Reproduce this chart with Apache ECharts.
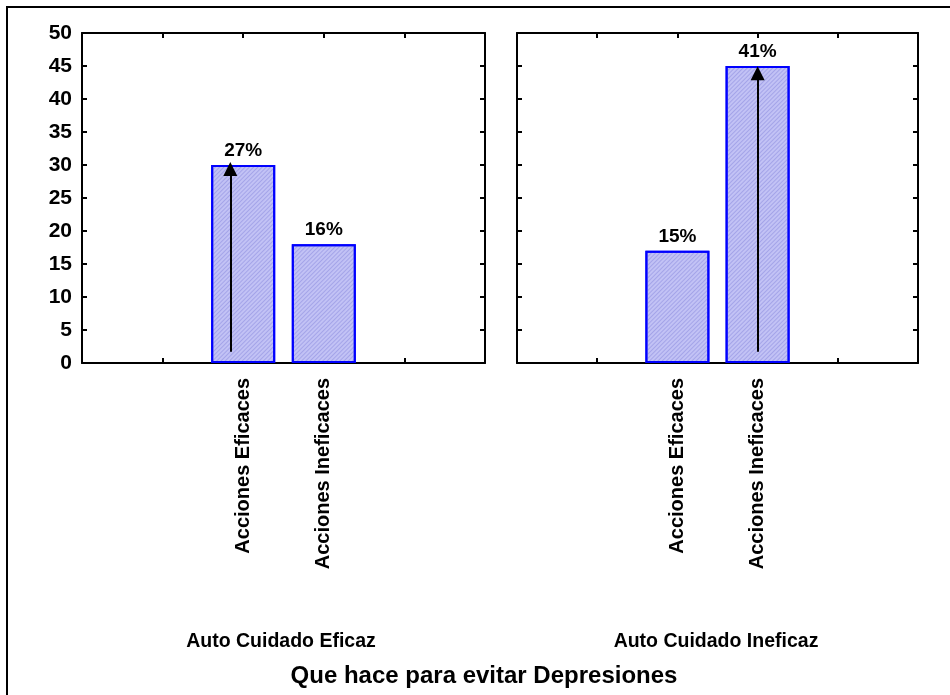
<!DOCTYPE html>
<html>
<head>
<meta charset="utf-8">
<script src="https://cdn.jsdelivr.net/npm/echarts@6/dist/echarts.min.js"></script>
<style>
html,body{margin:0;padding:0;background:#fff;}
#chart{width:950px;height:695px;}
</style>
</head>
<body>
<div id="chart"></div>
<script>
// ---- data ----
var categories = ['Acciones Eficaces', 'Acciones Ineficaces'];
var catPositions = [2, 3];
var groups = ['Auto Cuidado Eficaz', 'Auto Cuidado Ineficaz'];
var valuesEficaz = [30, 18];
var valuesIneficaz = [17, 45];
var pctEficaz = ['27%', '16%'];
var pctIneficaz = ['15%', '41%'];
var arrowEficaz = { x: 1.84, from: 1.7, to: 29.4 };
var arrowIneficaz = { x: 3, from: 1.7, to: 43.9 };
var yTicks = [0, 5, 10, 15, 20, 25, 30, 35, 40, 45, 50];
var xTitle = 'Que hace para evitar Depresiones';

var FONT = 'Liberation Sans, Arial, sans-serif';

var chart = echarts.init(document.getElementById('chart'), null, {renderer: 'canvas'});

function catFormatter(v) {
  var i = catPositions.indexOf(v);
  return i >= 0 ? categories[i] : '';
}

var grids = [
  {left: 82, top: 33, width: 403, height: 330},
  {left: 517, top: 33, width: 401, height: 330}
];

var xAxes = [], yAxes = [], series = [];
var lineStyle = {color: '#000', width: 2};

[0, 1].forEach(function (g) {
  xAxes.push({
    gridIndex: g, type: 'value', min: 0, max: 5, interval: 1, position: 'bottom',
    axisLine: {show: true, onZero: false, lineStyle: lineStyle},
    axisTick: {show: true, inside: true, length: 5, lineStyle: {color: '#000', width: 2}},
    axisLabel: {show: true, rotate: 90, margin: 15, formatter: catFormatter,
      color: '#000', fontFamily: FONT, fontWeight: 'bold', fontSize: 20,
      showMinLabel: true, showMaxLabel: true},
    splitLine: {show: false}
  });
  xAxes.push({
    gridIndex: g, type: 'value', min: 0, max: 5, interval: 1, position: 'top',
    axisLine: {show: true, onZero: false, lineStyle: lineStyle},
    axisTick: {show: true, inside: true, length: 5, lineStyle: {color: '#000', width: 2}},
    axisLabel: {show: false}, splitLine: {show: false}
  });
  yAxes.push({
    gridIndex: g, type: 'value', min: 0, max: 50, interval: 5, position: 'left',
    axisLine: {show: true, onZero: false, lineStyle: lineStyle},
    axisTick: {show: true, inside: true, length: 5, lineStyle: {color: '#000', width: 2}},
    axisLabel: {show: g === 0, margin: 10, color: '#000', fontFamily: FONT,
      fontWeight: 'bold', fontSize: 21,
      formatter: function (v) { return yTicks.indexOf(v) >= 0 ? String(v) : ''; }},
    splitLine: {show: false}
  });
  yAxes.push({
    gridIndex: g, type: 'value', min: 0, max: 50, interval: 5, position: 'right',
    axisLine: {show: true, onZero: false, lineStyle: lineStyle},
    axisTick: {show: true, inside: true, length: 5, lineStyle: {color: '#000', width: 2}},
    axisLabel: {show: false}, splitLine: {show: false}
  });
});

function makeBar(g, values, pcts, arrow) {
  return {
    type: 'bar',
    xAxisIndex: g * 2, yAxisIndex: g * 2,
    barWidth: 64,
    data: values.map(function (v, i) { return [catPositions[i], v]; }),
    itemStyle: {
      color: '#c2c2f5',
      borderColor: '#0000ff',
      borderWidth: 2,
      decal: {
        symbol: 'rect', symbolSize: 1,
        dashArrayX: [1, 0], dashArrayY: [1, 2],
        rotation: -Math.PI / 4,
        color: 'rgba(110,110,210,0.35)'
      }
    },
    label: {
      show: true, position: 'top', distance: 5,
      color: '#000', fontFamily: FONT, fontWeight: 'bold', fontSize: 19,
      formatter: function (p) { return pcts[p.dataIndex]; }
    },
    markLine: {
      silent: true,
      animation: false,
      symbol: ['none', 'triangle'],
      symbolSize: [14, 14],
      label: {show: false},
      lineStyle: {color: '#000', width: 2, type: 'solid'},
      data: [[{coord: [arrow.x, arrow.from]}, {coord: [arrow.x, arrow.to]}]]
    },
    animation: false
  };
}

series.push(makeBar(0, valuesEficaz, pctEficaz, arrowEficaz));
series.push(makeBar(1, valuesIneficaz, pctIneficaz, arrowIneficaz));

var option = {
  backgroundColor: '#fff',
  animation: false,
  grid: grids,
  xAxis: xAxes,
  yAxis: yAxes,
  series: series,
  graphic: [
    {type: 'rect', shape: {x: 7, y: 7, width: 960, height: 700},
      style: {fill: 'none', stroke: '#000', lineWidth: 2}, silent: true},
    {type: 'text', x: 281, y: 642,
      style: {text: groups[0], fill: '#000', font: 'bold 19.5px ' + FONT,
        textAlign: 'center', textVerticalAlign: 'middle'}},
    {type: 'text', x: 716, y: 642,
      style: {text: groups[1], fill: '#000', font: 'bold 19.5px ' + FONT,
        textAlign: 'center', textVerticalAlign: 'middle'}},
    {type: 'text', x: 484, y: 676,
      style: {text: xTitle, fill: '#000', font: 'bold 24px ' + FONT,
        textAlign: 'center', textVerticalAlign: 'middle'}}
  ]
};

chart.setOption(option);
</script>
</body>
</html>
